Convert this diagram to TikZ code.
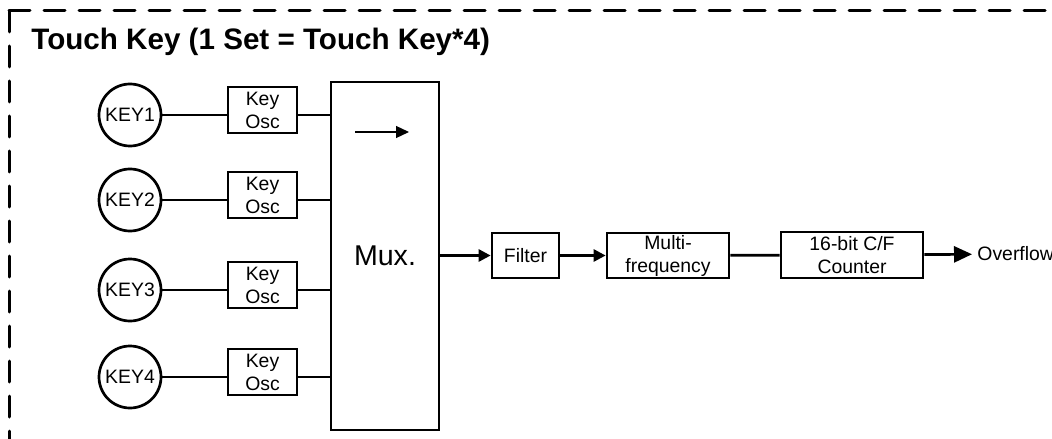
\documentclass[tikz,border=0pt]{standalone}
\usepackage{fontspec}
\setmainfont{Liberation Sans}
\usetikzlibrary{arrows.meta,positioning}
\tikzset{keyc/.style={circle,draw,line width=1.35pt,inner sep=0pt,minimum size=31pt,font=\fontsize{9.7}{11.5}\selectfont},blk/.style={draw,line width=1.35pt,align=center,inner sep=0pt,font=\fontsize{9.7}{11.5}\selectfont},wire/.style={line width=1.35pt},flow/.style={-{Triangle[length=6pt,width=6pt]},line width=1.35pt},frame/.style={line width=1.5pt,dash pattern=on 10.5pt off 7pt,line cap=round}}

\begin{document}
\begin{tikzpicture}[x=0.5pt,y=-0.5pt]
\useasboundingbox (0,0) rectangle (1052,438);
\coordinate (c0) at (9,11);
\draw[frame] (c0) -- (9,450);
\draw[frame] (c0) -- (1070,11);
\node[anchor=base west,inner sep=0pt,font=\bfseries\fontsize{14.8}{17}\selectfont] (ttl) at (31,50) {Touch Key (1 Set = Touch Key*4)};
\node[blk,minimum width=54pt,minimum height=174pt,font=\fontsize{14.3}{16}\selectfont] (mux) at (385,256) {Mux.};
\foreach \i/\yy in {1/115,2/200,3/290,4/377}{\node[keyc] (k\i) at (130,\yy) {KEY\i};
\node[blk,minimum width=34.5pt,minimum height=23pt] (o\i) at (262.5,\yy-5) {Key\\Osc};
\draw[wire] (k\i) -- (o\i.west |- k\i);
\draw[wire] (o\i.east |- k\i) -- (mux.west |- k\i);}
\coordinate (ma) at (355,132);
\coordinate (mb) at (409,132);
\draw[-{Triangle[length=6.5pt,width=6pt]},line width=0.6pt] (ma) -- (mb);
\node[blk,minimum width=33.5pt,minimum height=22.5pt] (flt) at (525.5,255.5) {Filter};
\node[blk,minimum width=61pt,minimum height=22.5pt] (mf) at (668,255.5) {Multi-\\frequency};
\node[blk,minimum width=71pt,minimum height=23pt] (cnt) at (852,255) {16-bit C/F\\Counter};
\node[anchor=west,inner sep=0pt,font=\fontsize{9.7}{11.5}\selectfont] (ovf) at (977,254) {Overflow};
\draw[flow] (mux.east |- flt) -- (flt);
\draw[flow] (flt) -- (mf);
\draw[wire] (mf) -- (cnt);
\draw[flow,-{Triangle[length=9pt,width=8pt]},shorten >=2.5pt] (cnt) -- (ovf);
\end{tikzpicture}
\end{document}
